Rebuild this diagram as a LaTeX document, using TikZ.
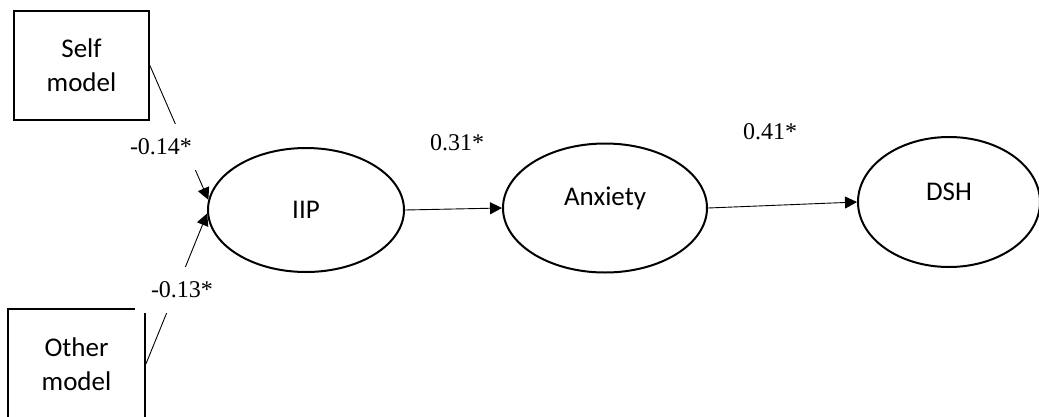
\documentclass[tikz,border=0pt]{standalone}
\usepackage{fontspec}
\setmainfont{Liberation Serif}
\newfontfamily\labfont{Carlito}
\usetikzlibrary{shapes.geometric,arrows.meta}
\begin{document}
\begin{tikzpicture}[x=1pt,y=-1pt,
  boxnode/.style={draw,line width=1.8pt,rectangle,inner sep=0pt,align=center,font=\labfont\fontsize{27}{34}\selectfont},
  oval/.style={draw,line width=2pt,ellipse,inner sep=0pt},
  ovaltext/.style={font=\labfont\fontsize{27}{30}\selectfont},
  conn/.style={line width=0.9pt,-{Triangle[length=12pt,width=12pt]}},
  coef/.style={fill=white,inner xsep=16pt,inner ysep=15pt,font=\fontsize{24}{26}\selectfont}]
\useasboundingbox (0,0) rectangle (1039,416);
\node[boxnode,minimum width=135pt,minimum height=109pt] (self) at (81.5,65.5) {Self\\model};
\node[boxnode,minimum width=137pt,minimum height=110pt] (other) at (76.5,364) {Other\\model};
\node[oval,minimum width=196pt,minimum height=124pt,label={[ovaltext]center:IIP}] (iip) at (306,210) {};
\node[oval,minimum width=204pt,minimum height=129pt,label={[ovaltext,yshift=10pt]center:Anxiety}] (anx) at (605,208) {};
\node[oval,minimum width=182pt,minimum height=130pt,label={[ovaltext,yshift=10pt]center:DSH}] (dsh) at (949,202) {};
\draw[conn] (self.east) -- (iip.174);
\draw[conn] (other.east) -- (iip.182);
\draw[conn] (iip.east) -- (anx.west);
\draw[conn] (anx.west -| anx.east) -- (dsh.west);
\node[coef] (c1) at (161,147) {-0.14*};
\node[coef] (c2) at (182,290) {-0.13*};
\node[font=\fontsize{24}{26}\selectfont] (c3) at (457,143) {0.31*};
\node[font=\fontsize{24}{26}\selectfont] (c4) at (770,132) {0.41*};
\end{tikzpicture}
\end{document}
